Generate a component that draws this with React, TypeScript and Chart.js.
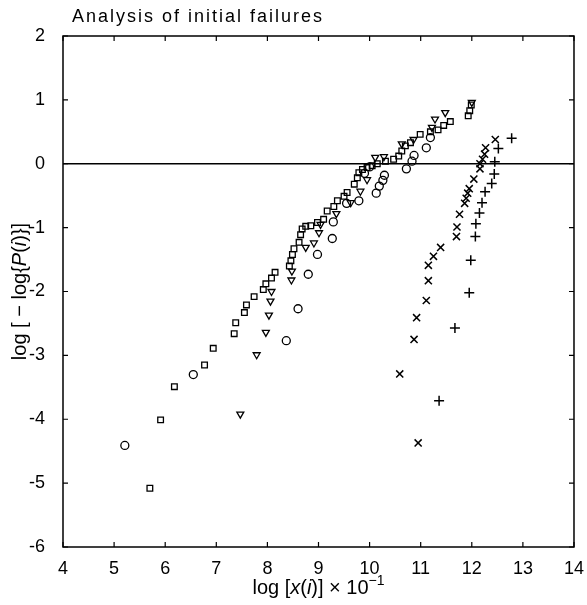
import React, { useEffect, useRef } from "react";
import { Chart, registerables } from "chart.js";

Chart.register(...registerables);

// ---- data (x = log[x(i)] x 10^-1, y = log[-log{P(i)}]) ----
const squaresX = [5.70, 5.91, 6.18, 6.77, 6.94, 7.35, 7.38, 7.55, 7.59, 7.74, 7.92, 7.97, 8.08, 8.15, 8.43, 8.46, 8.49, 8.52, 8.62, 8.65, 8.68, 8.75, 8.85, 8.98, 9.10, 9.17, 9.30, 9.37, 9.50, 9.56, 9.70, 9.76, 9.79, 9.86, 9.95, 10.05, 10.15, 10.31, 10.47, 10.57, 10.63, 10.70, 10.80, 10.99, 11.19, 11.34, 11.45, 11.58, 11.93, 11.96, 11.99];
const squaresY = [-5.08, -4.01, -3.49, -3.15, -2.89, -2.66, -2.49, -2.33, -2.21, -2.08, -1.97, -1.88, -1.79, -1.70, -1.60, -1.52, -1.42, -1.33, -1.23, -1.11, -1.02, -0.98, -0.97, -0.92, -0.87, -0.74, -0.67, -0.58, -0.51, -0.45, -0.32, -0.22, -0.14, -0.09, -0.06, -0.03, 0.0, 0.04, 0.07, 0.12, 0.20, 0.28, 0.33, 0.46, 0.50, 0.53, 0.60, 0.66, 0.75, 0.83, 0.92];

const circlesX = [5.21, 6.55, 8.37, 8.60, 8.80, 8.98, 9.27, 9.29, 9.55, 9.79, 9.90, 10.00, 10.13, 10.19, 10.26, 10.29, 10.72, 10.83, 10.87, 11.11, 11.19];
const circlesY = [-4.41, -3.30, -2.77, -2.27, -1.73, -1.42, -1.17, -0.91, -0.62, -0.58, -0.15, -0.05, -0.46, -0.35, -0.26, -0.18, -0.08, 0.04, 0.13, 0.25, 0.41];

const trianglesX = [7.47, 7.79, 7.97, 8.03, 8.06, 8.08, 8.47, 8.48, 8.75, 8.91, 9.01, 9.04, 9.35, 9.63, 9.82, 9.95, 10.11, 10.28, 10.63, 10.86, 11.22, 11.28, 11.48, 12.00];
const trianglesY = [-3.92, -2.99, -2.64, -2.37, -2.15, -2.00, -1.82, -1.68, -1.31, -1.24, -1.08, -0.95, -0.78, -0.61, -0.43, -0.25, 0.10, 0.11, 0.31, 0.38, 0.57, 0.70, 0.80, 0.96];

const crossesX = [10.95, 10.59, 10.87, 10.92, 11.11, 11.15, 11.15, 11.25, 11.39, 11.70, 11.71, 11.76, 11.86, 11.89, 11.92, 11.95, 12.04, 12.16, 12.16, 12.21, 12.25, 12.27, 12.46];
const crossesY = [-4.37, -3.29, -2.75, -2.41, -2.14, -1.83, -1.59, -1.45, -1.31, -1.14, -0.99, -0.79, -0.62, -0.54, -0.46, -0.39, -0.24, -0.08, 0.0, 0.07, 0.15, 0.25, 0.38];

const plusX = [11.36, 11.67, 11.95, 11.98, 12.07, 12.08, 12.15, 12.20, 12.26, 12.39, 12.44, 12.45, 12.52, 12.78];
const plusY = [-3.71, -2.57, -2.02, -1.51, -1.14, -0.94, -0.77, -0.61, -0.44, -0.31, -0.16, 0.03, 0.24, 0.40];

const xMin = 4, xMax = 14, yMin = -6, yMax = 2;
const xTicks = [4, 5, 6, 7, 8, 9, 10, 11, 12, 13, 14];
const yTicks = [-6, -5, -4, -3, -2, -1, 0, 1, 2];
const refLineX = [4, 14];
const refLineY = [0, 0];

const chartTitle = "Analysis of initial failures";

const pts = (xs: number[], ys: number[]) => xs.map((x, i) => ({ x, y: ys[i] }));

const FONT = "'Liberation Sans', Arial, sans-serif";

function drawSegments(ctx: CanvasRenderingContext2D, segs: { t: string; it?: boolean; sup?: boolean }[], cx: number, cy: number, size: number) {
  const fontFor = (s: { it?: boolean; sup?: boolean }) => `${s.it ? "italic " : ""}${s.sup ? Math.round(size * 0.7) : size}px ${FONT}`;
  let total = 0;
  const widths = segs.map((s) => {
    ctx.font = fontFor(s);
    const w = ctx.measureText(s.t).width;
    total += w;
    return w;
  });
  let x = cx - total / 2;
  ctx.textAlign = "left";
  ctx.textBaseline = "alphabetic";
  segs.forEach((s, i) => {
    ctx.font = fontFor(s);
    ctx.fillText(s.t, x, s.sup ? cy - size * 0.45 : cy);
    x += widths[i];
  });
}

const decor = {
  id: "decor",
  afterDraw(chart: any) {
    const ctx: CanvasRenderingContext2D = chart.ctx;
    const { left, right, top, bottom } = chart.chartArea;
    const xs = chart.scales.x;
    const ys = chart.scales.y;
    ctx.save();
    ctx.strokeStyle = "#000";
    ctx.fillStyle = "#000";
    ctx.lineWidth = 1.5;
    ctx.strokeRect(left, top, right - left, bottom - top);
    ctx.lineWidth = 1.2;
    const tl = 5;
    ctx.beginPath();
    xTicks.forEach((v) => {
      const px = xs.getPixelForValue(v);
      ctx.moveTo(px, bottom);
      ctx.lineTo(px, bottom - tl);
      ctx.moveTo(px, top);
      ctx.lineTo(px, top + tl);
    });
    yTicks.forEach((v) => {
      const py = ys.getPixelForValue(v);
      ctx.moveTo(left, py);
      ctx.lineTo(left + tl, py);
      ctx.moveTo(right, py);
      ctx.lineTo(right - tl, py);
    });
    ctx.stroke();

    // title
    ctx.font = `18px ${FONT}`;
    (ctx as any).letterSpacing = "2px";
    ctx.textAlign = "left";
    ctx.textBaseline = "alphabetic";
    ctx.fillText(chartTitle, 72, 22);
    (ctx as any).letterSpacing = "0px";

    // x axis title
    drawSegments(
      ctx,
      [
        { t: "log [" },
        { t: "x", it: true },
        { t: "(" },
        { t: "i", it: true },
        { t: ")] \u00d7 10" },
        { t: "\u22121", sup: true },
      ],
      (left + right) / 2,
      594,
      20
    );

    // y axis title
    ctx.save();
    ctx.translate(26, (top + bottom) / 2);
    ctx.rotate(-Math.PI / 2);
    drawSegments(
      ctx,
      [
        { t: "log [ \u2212 log{" },
        { t: "P", it: true },
        { t: "(" },
        { t: "i", it: true },
        { t: ")}]" },
      ],
      0,
      0,
      20
    );
    ctx.restore();
    ctx.restore();
  },
};

export default function App() {
  const ref = useRef<HTMLCanvasElement | null>(null);
  useEffect(() => {
    if (!ref.current) return;
    const common = {
      borderColor: "#000",
      backgroundColor: "rgba(0,0,0,0)",
      borderWidth: 1.3,
    };
    const chart = new Chart(ref.current, {
      type: "scatter",
      data: {
        datasets: [
          {
            type: "line",
            data: pts(refLineX, refLineY),
            borderColor: "#000",
            borderWidth: 1.3,
            pointRadius: 0,
            fill: false,
          } as any,
          { data: pts(squaresX, squaresY), pointStyle: "rect", pointRadius: 4, ...common },
          { data: pts(circlesX, circlesY), pointStyle: "circle", pointRadius: 4, ...common },
          { data: pts(trianglesX, trianglesY), pointStyle: "triangle", pointRotation: 180, pointRadius: 4, ...common },
          { data: pts(crossesX, crossesY), pointStyle: "crossRot", pointRadius: 5, ...common, borderWidth: 1.5 },
          { data: pts(plusX, plusY), pointStyle: "cross", pointRadius: 5, ...common, borderWidth: 1.5 },
        ],
      },
      options: {
        animation: false,
        responsive: false,
        events: [],
        layout: { padding: { left: 0, right: 11, top: 36, bottom: 0 } },
        plugins: { legend: { display: false }, tooltip: { enabled: false }, title: { display: false } },
        scales: {
          x: {
            type: "linear",
            min: xMin,
            max: xMax,
            grid: { display: false },
            border: { display: false },
            ticks: { stepSize: 1, color: "#000", font: { family: FONT, size: 18 }, padding: 3, maxRotation: 0 },
            afterFit: (s: any) => { s.height = 58; },
          },
          y: {
            type: "linear",
            min: yMin,
            max: yMax,
            grid: { display: false },
            border: { display: false },
            ticks: { stepSize: 1, color: "#000", font: { family: FONT, size: 18 }, padding: 10 },
            afterFit: (s: any) => { s.width = 63; },
          },
        },
      },
      plugins: [decor],
    });
    return () => chart.destroy();
  }, []);
  return (
    <div style={{ position: "absolute", left: 0, top: 0, width: 587, height: 605, background: "#fff" }}>
      <canvas ref={ref} width={587} height={605} />
    </div>
  );
}
